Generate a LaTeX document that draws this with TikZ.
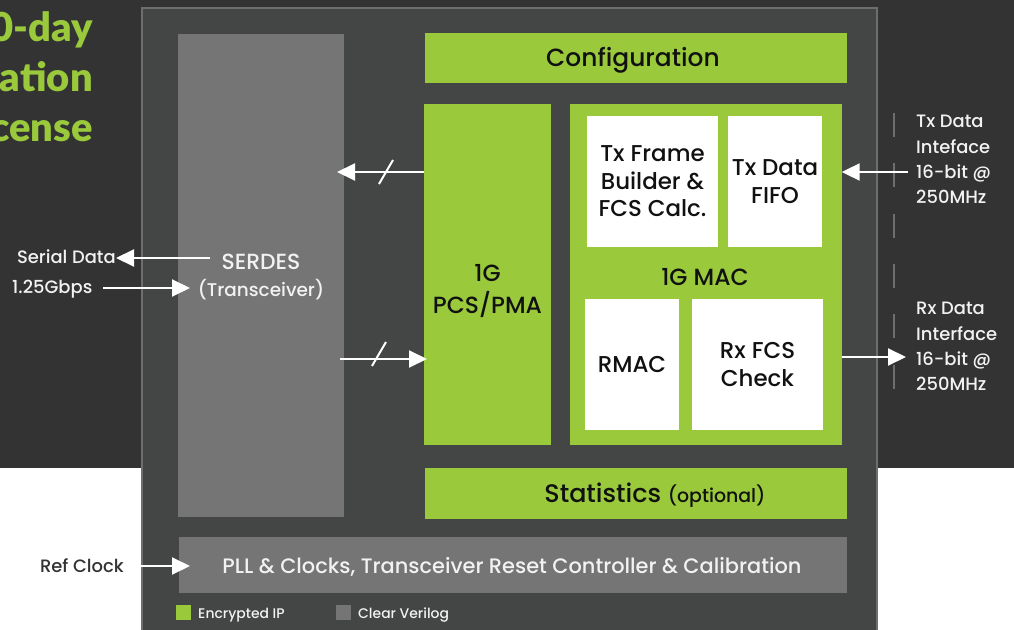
\documentclass[tikz,border=0pt]{standalone}
\usepackage{fontspec}
\IfFontExistsTF{Poppins Medium}{\setmainfont{Poppins Medium}}{\setmainfont{Poppins}[UprightFeatures={FakeBold=0.6}]}
\IfFontExistsTF{Lato Black}{\newfontfamily\titlefont{Lato Black}}{\newfontfamily\titlefont{Lato}[UprightFont={* Bold}, UprightFeatures={FakeBold=1}]}
\usetikzlibrary{arrows.meta}
\definecolor{bgdark}{HTML}{333333}
\definecolor{mainfill}{HTML}{444545}
\definecolor{mainborder}{HTML}{6E6E6E}
\definecolor{ipgreen}{HTML}{9ACA3C}
\definecolor{vgray}{HTML}{757575}
\definecolor{txtwhite}{HTML}{F2F2F2}
\definecolor{txtdark}{HTML}{333333}
\definecolor{txtblack}{HTML}{111111}
\newcommand{\fsz}[1]{\fontsize{#1}{1.25\dimexpr#1pt\relax}\selectfont}
\begin{document}
\begin{tikzpicture}[x=1bp,y=-1bp,
  greenbox/.style={fill=ipgreen, inner sep=0pt, text=txtblack},
  graybox/.style={fill=vgray, inner sep=0pt, text=txtwhite},
  whitebox/.style={fill=white, inner sep=0pt, text=txtblack, align=center},
  arr/.style={draw=white, line width=2bp, -{Triangle[length=18bp,width=17bp]}},
  slashmark/.style={draw=white, line width=2bp},
  sidelbl/.style={text=txtwhite, inner sep=0pt, align=left, font=\fontsize{18}{25.5}\selectfont},
  titletxt/.style={text=ipgreen, inner sep=0pt, anchor=base east, font=\titlefont\fontsize{40}{50}\selectfont},
  legendtxt/.style={text=txtwhite, inner sep=0pt, anchor=west, font=\fontsize{14}{16}\selectfont}
]
\useasboundingbox (0,0) rectangle (1014,630);
% backgrounds
\fill[white] (0,0) rectangle (1014,630);
\fill[bgdark] (0,0) rectangle (1014,468);
% title (cut off at the left)
\node[titletxt] (t1) at (93,42) {0-day};
\node[titletxt] (t2) at (93,92) {ation};
\node[titletxt] (t3) at (93,142) {cense};
% main box
\draw[mainborder, line width=2bp, fill=mainfill] (142,8) rectangle (877,640);
% blocks
\node[graybox, minimum width=166, minimum height=485] (serdes) at (261,275.5) {};
\node[text=txtwhite, inner sep=0pt, align=center, font=\fontsize{22}{27}\selectfont] (serdestxt) at (261,277) {SERDES\\{\fontsize{18.5}{27}\selectfont(Transceiver)}};
\node[greenbox, minimum width=424, minimum height=50] (config) at (636,58) {};
\node[text=txtblack, inner sep=0pt, font=\fsz{25}] (configtxt) at (633,60) {Configuration};
\node[greenbox, minimum width=127, minimum height=343] (pcs) at (487.5,274.5) {};
\node[text=txtblack, inner sep=0pt, align=center, font=\fontsize{23.5}{32}\selectfont] (pcstxt) at (487.5,291) {1G\\PCS/PMA};
\node[greenbox, minimum width=273, minimum height=343] (mac) at (705.5,274.5) {};
\node[text=txtblack, inner sep=0pt, font=\fsz{23.5}] (mactxt) at (705,277) {1G MAC};
\node[whitebox, minimum width=131, minimum height=131, font=\fontsize{23}{27.5}\selectfont] (txframe) at (652.5,181.5) {Tx Frame\\Builder \&\\FCS Calc.};
\node[whitebox, minimum width=94, minimum height=131, font=\fontsize{23}{27.5}\selectfont] (txfifo) at (775,181.5) {Tx Data\\FIFO};
\node[whitebox, minimum width=94, minimum height=131, font=\fontsize{23}{27.5}\selectfont] (rmac) at (632,364.5) {RMAC};
\node[whitebox, minimum width=131, minimum height=131, font=\fontsize{23}{27.5}\selectfont] (rxfcs) at (757.5,364.5) {Rx FCS\\Check};
\node[greenbox, minimum width=424, minimum height=51] (stats) at (636,493.5) {};
\node[text=txtblack, inner sep=0pt, font=\fsz{25.5}] (statstxt) at (655,495) {Statistics {\fsz{19}(optional)}};
\node[graybox, minimum width=670, minimum height=56] (pll) at (513,565) {};
\node[text=txtwhite, inner sep=0pt, font=\fsz{21}] (plltxt) at (512,567) {PLL \& Clocks, Transceiver Reset Controller \& Calibration};
% legend
\node[greenbox, minimum width=15, minimum height=15] (leg1) at (183.5,612.5) {};
\node[legendtxt] (leg1txt) at (198,615.5) {Encrypted IP};
\node[graybox, minimum width=15, minimum height=15] (leg2) at (343.5,612.5) {};
\node[legendtxt] (leg2txt) at (358,615.5) {Clear Verilog};
% side labels
\node[sidelbl, anchor=east] (serialtxt) at (116,256.5) {Serial Data};
\node[sidelbl, anchor=west] (gbpstxt) at (12,289) {1.25Gbps};
\node[sidelbl, anchor=east, text=txtdark] (refclk) at (124,566) {Ref Clock};
\node[sidelbl, anchor=west] (txif) at (916,159.5) {Tx Data\\Inteface\\16-bit @\\250MHz};
\node[sidelbl, anchor=west] (rxif) at (916,346.5) {Rx Data\\Interface\\16-bit @\\250MHz};
% interface boundary
\coordinate (dtop) at (894,113);
\coordinate (dbot) at (894,392);
\draw[mainborder, line width=2.5bp, dash pattern=on 24bp off 26.3bp] (dtop) -- (dbot);
% connectors
\coordinate (serialsrc) at (210,258);
\draw[arr] (serialsrc) -- (serialtxt.east |- serialsrc);
\coordinate (gbpssrc) at (103,288);
\coordinate (gbpsdst) at (190,288);
\draw[arr] (gbpssrc) -- (gbpsdst);
\coordinate (pcsout) at (424,172);
\coordinate (serdesin) at (337,172);
\draw[arr] (pcsout) -- (serdesin);
\draw[slashmark] (379,184) -- (393,160);
\coordinate (serdesout) at (340,359);
\coordinate (pcsin) at (427,359);
\draw[arr] (serdesout) -- (pcsin);
\draw[slashmark] (372,366) -- (386,342);
\coordinate (txsrc) at (908,172);
\draw[arr] (txsrc) -- (mac.east |- txsrc);
\coordinate (rxdst) at (906,357);
\draw[arr] (mac.east |- rxdst) -- (rxdst);
\coordinate (refsrc) at (140,566);
\coordinate (refdst) at (190,566);
\draw[arr] (refsrc) -- (refdst);
\end{tikzpicture}
\end{document}
